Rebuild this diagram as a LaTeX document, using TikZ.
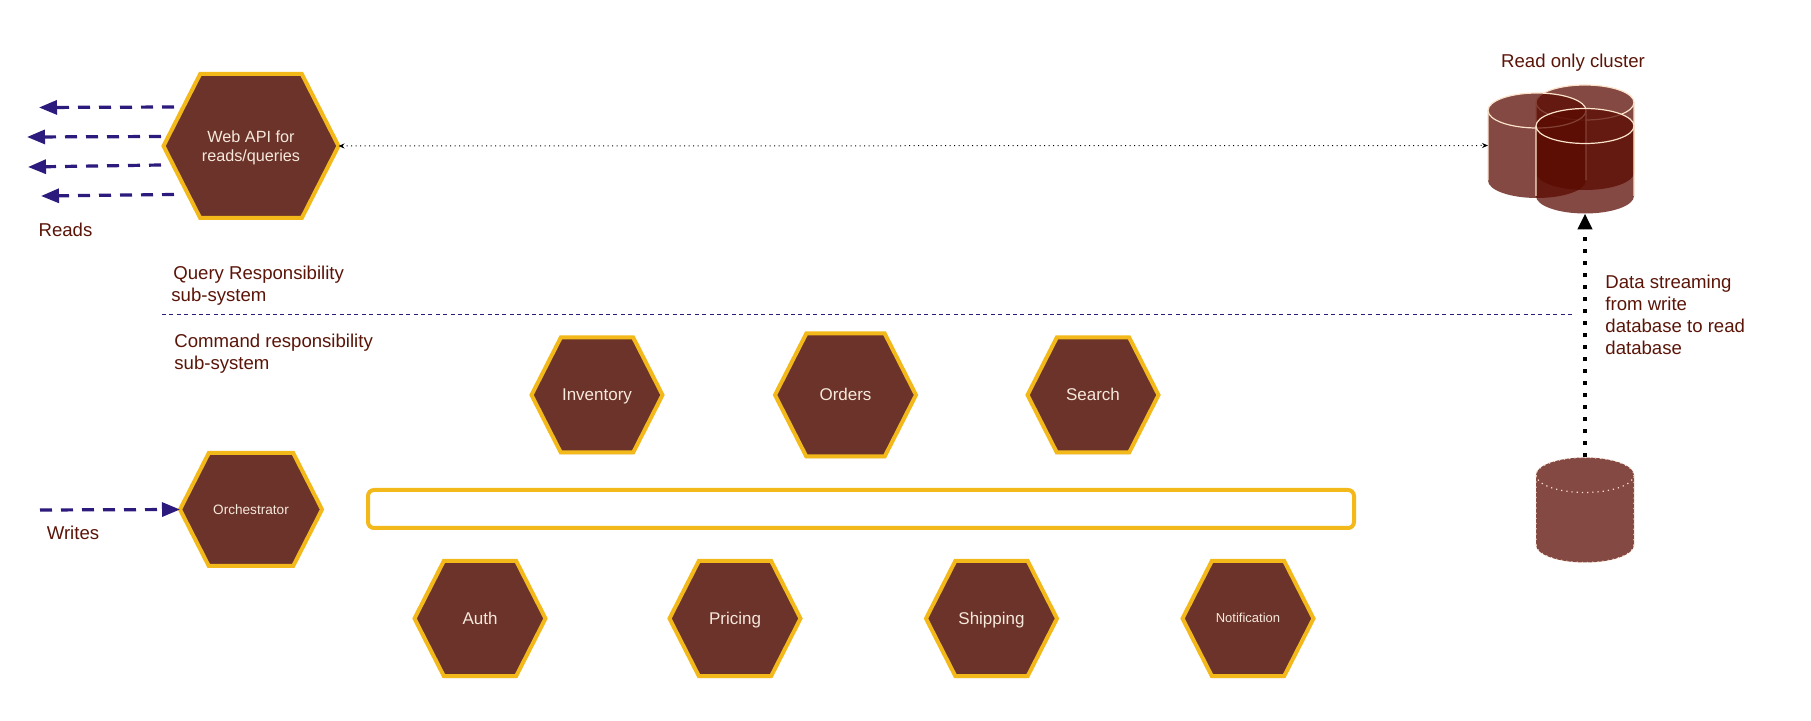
\documentclass[tikz,border=0pt]{standalone}
\usepackage{fontspec}
\setmainfont{Liberation Sans}
\usepackage{xcolor}
\usepackage{tikz}
\usetikzlibrary{calc,arrows.meta,shapes.symbols,shadows}
\definecolor{brownc}{HTML}{6B3329}
\definecolor{goldc}{HTML}{F3B81A}
\definecolor{creamc}{HTML}{F7E8DC}
\definecolor{labelc}{HTML}{5A1408}
\definecolor{bluec}{HTML}{2C1A7C}
\definecolor{dbc}{HTML}{590900}
\definecolor{rimc}{HTML}{FBE3CB}
\tikzset{
  hexa/.style={signal,signal to=west and east,signal pointer angle=126,draw=goldc,line width=2pt,fill=brownc,text=creamc,
    align=center,inner sep=0pt,outer sep=0pt,minimum width=65.5pt,minimum height=57.5pt,font=\fontsize{8.5}{9.5}\selectfont,
    drop shadow={opacity=0.25,shadow xshift=0pt,shadow yshift=-1pt}},
  flow/.style={-{Triangle[length=9pt,width=7pt]},bluec,line width=1.6pt,dash pattern=on 6pt off 4.5pt},
  lbl/.style={text=labelc,align=left,inner sep=0pt,font=\fontsize{9.3}{11}\selectfont},
  drum/.style={minimum width=49pt,minimum height=52.5pt,inner sep=0pt,outer sep=0pt},
  rim/.style={rimc,line width=0.6pt}
}
\newcommand{\dbdrum}[4][]{%
  \node[drum] (#2) at (#3,#4) {};
  \fill[dbc,fill opacity=0.74] ($(#2.north west)+(0,-8.75pt)$) arc[start angle=180,end angle=0,x radius=24.5pt,y radius=8.75pt]
    -- ($(#2.south east)+(0,8.75pt)$) arc[start angle=0,end angle=-180,x radius=24.5pt,y radius=8.75pt] -- cycle;
  \draw[rim,#1] ($(#2.south west)+(0,8.75pt)$) -- ($(#2.north west)+(0,-8.75pt)$) arc[start angle=180,end angle=0,x radius=24.5pt,y radius=8.75pt]
    -- ($(#2.south east)+(0,8.75pt)$);
  \draw[rim,#1] ($(#2.north west)+(0,-8.75pt)$) arc[start angle=180,end angle=360,x radius=24.5pt,y radius=8.75pt];
}
\newcommand{\hl}[1]{\vphantom{A}\smash{#1}}
\begin{document}
\begin{tikzpicture}[x=0.5pt,y=-0.5pt]
\useasboundingbox (0,0) rectangle (1811,721);
% read side
\node[hexa,minimum width=87.5pt,minimum height=72pt,font=\fontsize{8.1}{9.5}\selectfont] (webapi) at (251,146) {Web API for\\\hl{reads/queries}};
\dbdrum{rodbb}{1585}{137.5}
\dbdrum{rodba}{1537}{145.5}
\dbdrum{rodbc}{1585}{161}
\node[lbl] (clusterlbl) at (1573,63) {Read only cluster};
\draw[{Stealth[length=3pt,width=2.5pt]}-{Stealth[length=3pt,width=2.5pt]},black,line width=0.5pt,dash pattern=on 0.5pt off 1.75pt] (webapi.east) -- (rodba.west);
\coordinate (ra) at (174,107); \coordinate (rb) at (161,136.5); \coordinate (rc) at (161,165); \coordinate (rd) at (174,194.5);
\coordinate (ea) at (39,107.5); \coordinate (eb) at (27,137); \coordinate (ec) at (28,167); \coordinate (ed) at (41,196);
\foreach \k in {a,b,c,d}{\draw[flow] (r\k) -- (e\k);}
\node[lbl] (readslbl) at (65.5,230) {Reads};
% split line
\node[lbl,anchor=west] (querylbl) at (171,286) {\hspace*{1pt}Query Responsibility\\sub-system};
\coordinate (splita) at (162,314); \coordinate (splitb) at (1572,314);
\draw[bluec,line width=0.4pt,dash pattern=on 2pt off 1.7pt] (splita) -- (splitb);
\node[lbl,anchor=west] (cmdlbl) at (174,354) {Command responsibility\\sub-system};
% write side
\node[hexa,minimum width=71pt,minimum height=56.5pt,font=\fontsize{6.8}{8}\selectfont] (orch) at (251,509.5) {Orchestrator};
\coordinate (wstart) at (40,510);
\draw[flow] (wstart) -- (orch.west);
\node[lbl] (writeslbl) at (73,533) {Writes};
\node[hexa] (inventory) at (597,395) {\hl{Inventory}};
\node[hexa,minimum width=70.5pt,minimum height=61.5pt] (orders) at (845.5,395) {\hl{Orders}};
\node[hexa] (search) at (1093,395) {\hl{Search}};
\node[draw=goldc,line width=2pt,fill=white,rounded corners=3pt,minimum width=493pt,minimum height=19pt,inner sep=0pt,
  drop shadow={opacity=0.25,shadow xshift=0pt,shadow yshift=-1pt}] (bus) at (861,509) {};
\node[hexa] (auth) at (480,618.5) {\hl{Auth}};
\node[hexa] (pricing) at (735,618.5) {\hl{Pricing}};
\node[hexa] (shipping) at (991.5,618.5) {\hl{Shipping}};
\node[hexa,font=\fontsize{6.5}{8}\selectfont] (notif) at (1248,618.5) {\hl{Notification}};
% write database
\dbdrum[dotted]{wdb}{1585}{510}
\draw[rim,dotted] ($(wdb.south east)+(0,8.75pt)$) arc[start angle=0,end angle=-180,x radius=24.5pt,y radius=8.75pt];
\draw[-{Triangle[length=8pt,width=7pt]},black,line width=2pt,dash pattern=on 2pt off 4pt] (wdb.north) -- (rodbc.south);
\node[lbl,anchor=west] (streamlbl) at (1605,315) {Data streaming\\from write\\database to read\\database};
\end{tikzpicture}
\end{document}
